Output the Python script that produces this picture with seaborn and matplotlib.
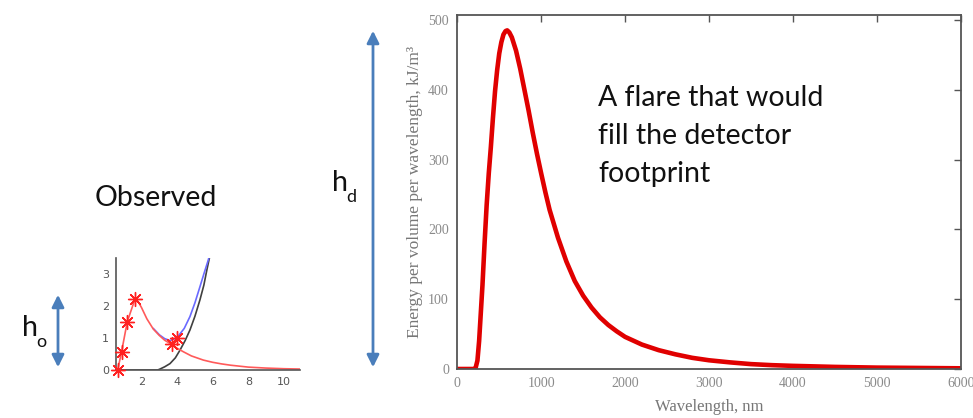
import seaborn as sns
import matplotlib.pyplot as plt
import pandas as pd
from matplotlib.patches import FancyArrowPatch

plt.switch_backend('Agg')

# --- Données ---
# Grand graphique : énergie par volume et par longueur d'onde
wavelength_nm = [0, 100, 200, 215, 240, 260, 280, 300, 325, 350, 375, 400, 425, 450, 475,
                 500, 525, 550, 575, 595, 620, 650, 700, 750, 800, 850, 900, 950, 1000,
                 1050, 1100, 1200, 1300, 1400, 1500, 1600, 1700, 1800, 1900, 2000, 2200,
                 2400, 2600, 2800, 3000, 3250, 3500, 3750, 4000, 4500, 5000, 5500, 6000]
energy_kj = [0, 0, 0, 0, 12, 40, 80, 120, 180, 235, 280, 318, 360, 398, 428,
             452, 468, 479, 484, 485, 482, 475, 456, 430, 400, 370, 338, 308, 280,
             253, 228, 188, 154, 126, 105, 88, 74, 63, 54, 46, 35,
             27, 21, 16, 12.5, 9.5, 7, 5.5, 4.5, 3, 2, 1.5, 1]
big_xticks = [0, 1000, 2000, 3000, 4000, 5000, 6000]
big_yticks = [0, 100, 200, 300, 400, 500]

# Petit graphique "Observed"
obs_x = [0.66, 0.88, 1.2, 1.63, 3.69, 4.0]
obs_y = [0.0, 0.57, 1.51, 2.21, 0.80, 0.99]

red_x = [0.66, 0.88, 1.2, 1.63, 1.8, 2.0, 2.3, 2.66, 3.0, 3.3, 3.69, 4.0, 4.35, 4.8,
         5.47, 6.0, 6.5, 7.0, 7.5, 8.0, 9.0, 10.0, 10.9]
red_y = [0.0, 0.57, 1.51, 2.21, 2.15, 1.95, 1.6, 1.28, 1.08, 0.93, 0.80, 0.68, 0.57, 0.44,
         0.31, 0.24, 0.19, 0.15, 0.12, 0.09, 0.06, 0.04, 0.03]

blue_x = [2.66, 3.0, 3.3, 3.6, 3.8, 4.06, 4.4, 4.72, 5.0, 5.28, 5.5, 5.75, 5.9]
blue_y = [1.30, 1.10, 0.98, 0.92, 0.96, 1.06, 1.30, 1.67, 2.10, 2.60, 3.00, 3.44, 3.75]

black_x = [0.66, 1.5, 2.5, 2.9, 3.0, 3.3, 3.6, 3.9, 4.16, 4.45, 4.72, 5.0, 5.28, 5.5,
           5.66, 5.85, 5.95]
black_y = [0.0, 0.0, 0.0, 0.0, 0.02, 0.1, 0.2, 0.38, 0.62, 0.92, 1.25, 1.68, 2.19, 2.65,
           3.1, 3.6, 3.85]

small_xticks = [2, 4, 6, 8, 10]
small_yticks = [0, 1, 2, 3]

df_big = pd.DataFrame({'wl': wavelength_nm, 'E': energy_kj})
df_obs = pd.DataFrame({'x': obs_x, 'y': obs_y})
df_red = pd.DataFrame({'x': red_x, 'y': red_y})
df_blue = pd.DataFrame({'x': blue_x, 'y': blue_y})
df_black = pd.DataFrame({'x': black_x, 'y': black_y})

sns.set_style("white")
plt.rcParams['font.family'] = ['DejaVu Sans']

W, H = 973, 418
fig = plt.figure(figsize=(W / 100, H / 100), dpi=100)


def fx(px):
    return px / W


def fy(py):
    return 1 - py / H


# --- Grand graphique ---
ax = fig.add_axes([fx(457.3), fy(369), (960.7 - 457.3) / W, (369 - 15) / H])
sns.lineplot(data=df_big, x='wl', y='E', color='#e00000', linewidth=3.3,
             sort=False, estimator=None, ax=ax)
ax.set_xlim(0, 6000)
ax.set_ylim(0, 507)
ax.set_xticks(big_xticks)
ax.set_yticks(big_yticks)
ax.tick_params(direction='in', top=True, right=True, length=5, width=1,
               colors='#555555', labelcolor='#8a8a8a', labelsize=10, pad=6)
for lab in ax.get_xticklabels() + ax.get_yticklabels():
    lab.set_family('Liberation Serif')
for sp in ax.spines.values():
    sp.set_color('#555555')
    sp.set_linewidth(1.3)
ax.set_xlabel('Wavelength, nm', family='Liberation Serif', color='#777777',
              fontsize=12, labelpad=6)
ax.set_ylabel('Energy per volume per wavelength, kJ/m³', family='Liberation Serif',
              color='#777777', fontsize=12.5, labelpad=4)

# --- Petit graphique ---
ax2 = fig.add_axes([fx(115.7), fy(370), (300 - 115.7) / W, (370 - 258) / H])
sns.lineplot(data=df_black, x='x', y='y', color='#404040', linewidth=1.2,
             sort=False, estimator=None, ax=ax2)
sns.lineplot(data=df_blue, x='x', y='y', color='#6a6aff', linewidth=1.2,
             sort=False, estimator=None, ax=ax2)
sns.lineplot(data=df_red, x='x', y='y', color='#ff5a5a', linewidth=1.2,
             sort=False, estimator=None, ax=ax2)
sns.scatterplot(data=df_obs, x='x', y='y', marker=(8, 2, 0), s=100,
                color='#ff2020', linewidth=1.0, ax=ax2, clip_on=False, zorder=5)
ax2.set_xlim(0.55, 10.9)
ax2.set_ylim(0, 3.5)
ax2.set_xticks(small_xticks)
ax2.set_yticks(small_yticks)
ax2.tick_params(direction='in', length=3, width=1, colors='#555555',
                labelcolor='#555555', labelsize=8, pad=5)
ax2.spines['top'].set_visible(False)
ax2.spines['right'].set_visible(False)
for sp in ('left', 'bottom'):
    ax2.spines[sp].set_color('#555555')
    ax2.spines[sp].set_linewidth(1.2)
ax2.set_xlabel('')
ax2.set_ylabel('')

# --- Textes de la diapositive ---
big = 20.5
small = 13
fig.text(fx(156), fy(198), 'Observed', family='Lato', fontsize=big,
         ha='center', va='center', color='#111111')
fig.text(fx(598), fy(98), 'A flare that would', family='Lato', fontsize=big,
         ha='left', va='center', color='#111111')
fig.text(fx(598), fy(136), 'fill the detector', family='Lato', fontsize=big,
         ha='left', va='center', color='#111111')
fig.text(fx(598), fy(174), 'footprint', family='Lato', fontsize=big,
         ha='left', va='center', color='#111111')
fig.text(fx(332), fy(183), 'h', family='Lato', fontsize=big,
         ha='left', va='center', color='#111111')
fig.text(fx(346), fy(197), 'd', family='Lato', fontsize=small,
         ha='left', va='center', color='#111111')
fig.text(fx(22), fy(328), 'h', family='Lato', fontsize=big,
         ha='left', va='center', color='#111111')
fig.text(fx(36), fy(342), 'o', family='Lato', fontsize=small,
         ha='left', va='center', color='#111111')

# --- Flèches bleues ---
for x0, y0, y1 in [(373, 28, 370), (58, 292, 370)]:
    arr = FancyArrowPatch((fx(x0), fy(y0)), (fx(x0), fy(y1)),
                          transform=fig.transFigure, arrowstyle='<|-|>',
                          mutation_scale=18, color='#4a7ebb', linewidth=2)
    fig.patches.append(arr)

fig.savefig('out.png', dpi=100)
